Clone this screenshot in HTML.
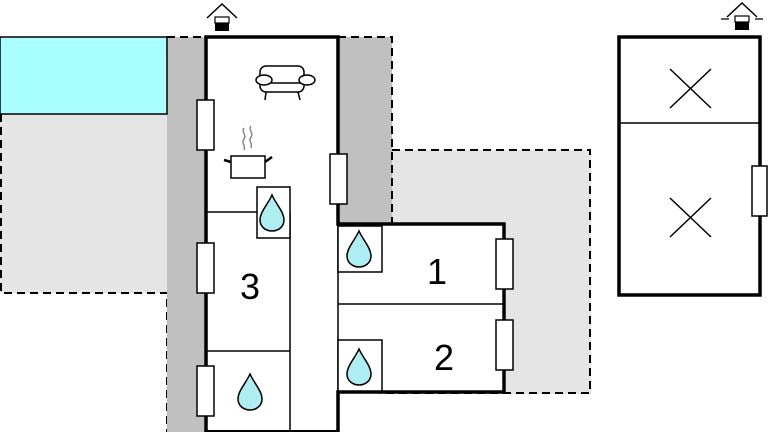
<!DOCTYPE html>
<html><head><meta charset="utf-8"><style>
html,body{margin:0;padding:0;background:#fff;width:768px;height:432px;overflow:hidden}
svg{display:block}
text{font-family:"Liberation Sans",sans-serif;font-size:36px;fill:#000}
</style></head><body>
<svg width="768" height="432" viewBox="0 0 768 432" xmlns="http://www.w3.org/2000/svg">
<defs>
<g id="drop"><path d="M0,-17 C4,-8 12,0 12,8 C12,15 6,19 0,19 C-6,19 -12,15 -12,8 C-12,0 -4,-8 0,-17Z" fill="#aeeef2" stroke="#000" stroke-width="1.5"/></g>
<g id="entry"><path d="M-15,6 L0,-8 L15,6" fill="none" stroke="#000" stroke-width="1.5"/><rect x="-7" y="5" width="14" height="6" fill="#fff" stroke="#000" stroke-width="1.2"/><rect x="-7" y="11" width="14" height="8" fill="#000"/></g>
</defs>
<rect x="0" y="114" width="167" height="179" fill="#e5e5e5"/>
<path d="M1,114 V293 H167 V432" fill="none" stroke="#000" stroke-width="2" stroke-dasharray="8,5"/>
<rect x="392" y="150" width="199" height="244" fill="#e5e5e5"/>
<path d="M392,150 H590 V393 H380" fill="none" stroke="#000" stroke-width="2" stroke-dasharray="8,5"/>
<rect x="167" y="37" width="39" height="395" fill="#c0c0c0"/>
<rect x="338" y="37" width="54" height="187" fill="#c0c0c0"/>
<path d="M167,37 H206 M338,37 H392 V224" fill="none" stroke="#000" stroke-width="2" stroke-dasharray="8,5"/>
<rect x="0" y="37" width="167" height="77" fill="#aaffff" stroke="#000" stroke-width="1.5"/>
<rect x="206" y="37" width="132" height="393" fill="#fff"/>
<rect x="338" y="224" width="166" height="168" fill="#fff"/>
<path d="M206,432 V37 H338 V224 H504 V392 H338 V432" fill="none" stroke="#000" stroke-width="3.5"/>
<path d="M206,432 H338" stroke="#000" stroke-width="4"/>
<path d="M338,224 V392" stroke="#000" stroke-width="1.5"/>
<g stroke="#000" stroke-width="1.5" fill="none">
<path d="M206,212 H258"/>
<path d="M290,212 V430"/>
<path d="M206,351 H290"/>
<rect x="257" y="187" width="33" height="51" fill="#fff"/>
<path d="M338,304 H504"/>
<rect x="338" y="226" width="44" height="46" fill="#fff"/>
<rect x="338" y="340" width="44" height="51" fill="#fff"/>
</g>
<use href="#drop" x="272" y="212"/>
<use href="#drop" x="359" y="248"/>
<use href="#drop" x="359" y="366"/>
<use href="#drop" x="250" y="391"/>
<g fill="#fff" stroke="#000" stroke-width="1.5">
<rect x="260" y="66" width="44" height="26" rx="6"/>
<path d="M262,83 H302" />
<ellipse cx="264" cy="80" rx="8" ry="5"/>
<ellipse cx="307" cy="80" rx="8" ry="5"/>
<path d="M266,92 L265,100 M298,92 L300,100" fill="none"/>
</g>
<g stroke="#000" stroke-width="1.5" fill="#fff">
<rect x="231" y="156" width="34" height="22"/>
<path d="M231,162 L224,160 M265,162 L272,157" fill="none" stroke-width="2.5"/>
<path d="M244,128 c-3,4 3,7 0,11 c-3,4 2,7 0,11 M251,126 c-3,4 3,7 0,11 c-3,4 2,7 0,11" fill="none" stroke="#888" stroke-width="1.5"/>
</g>
<text x="240" y="299">3</text>
<text x="427" y="284">1</text>
<text x="434" y="370">2</text>
<rect x="619" y="37" width="141" height="258" fill="#fff" stroke="#000" stroke-width="3.5"/>
<path d="M619,123 H760" stroke="#000" stroke-width="1.5"/>
<path d="M670,69 L711,108 M711,69 L670,108 M670,198 L711,237 M711,198 L670,237" stroke="#000" stroke-width="1.5"/>
<g fill="#fff" stroke="#000" stroke-width="1.5">
<rect x="197" y="100" width="17" height="50"/>
<rect x="197" y="243" width="17" height="50"/>
<rect x="197" y="366" width="17" height="50"/>
<rect x="330" y="154" width="17" height="50"/>
<rect x="496" y="239" width="17" height="50"/>
<rect x="496" y="320" width="17" height="50"/>
<rect x="752" y="166" width="15" height="50"/>
</g>
<use href="#entry" x="222" y="12"/>
<use href="#entry" x="742" y="11"/>
<path d="M721,19 H729 M755,19 H763" stroke="#000" stroke-width="1.2"/>
</svg>
</body></html>
